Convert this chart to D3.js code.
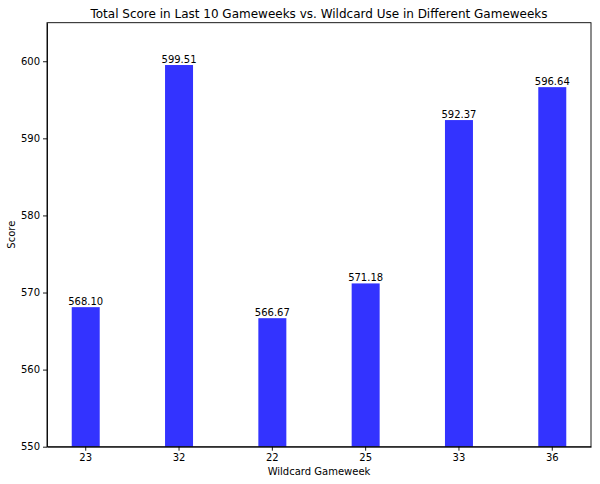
<!DOCTYPE html>
<html lang="en">
<head>
  <meta charset="UTF-8">
  <title>Wildcard chart</title>
  <script src="https://d3js.org/d3.v7.min.js"></script>
  <style>
    body { margin: 0; background: #fff; }
    text { font-family: "DejaVu Sans", sans-serif; fill: #000; }
    .axis path, .axis line { stroke: #000; stroke-width: 0.9; }
    .axis text { font-size: 10px; }
  </style>
</head>
<body>
  <div id="chart"></div>
  <script>
    // Data
    const gameweeks = ["23", "32", "22", "25", "33", "36"];
    const scores = [568.10, 599.51, 566.67, 571.18, 592.37, 596.64];
    const yTicks = [550, 560, 570, 580, 590, 600];

    const W = 600, H = 484;
    const margin = { top: 22.7, right: 9, bottom: 37.3, left: 47 };
    const width = W - margin.left - margin.right;
    const height = H - margin.top - margin.bottom;

    const svg = d3.select("#chart").append("svg")
      .attr("width", W).attr("height", H);

    const g = svg.append("g")
      .attr("transform", `translate(${margin.left},${margin.top})`);

    // Band scale mimicking matplotlib bar width 0.3 with 5% margins
    const x = d3.scaleBand().domain(gameweeks).range([0, width])
      .paddingInner(0.7).paddingOuter(0.265);
    const y = d3.scaleLinear().domain([550, 605]).range([height, 0]);

    // Bars
    g.selectAll(".bar")
      .data(gameweeks.map((gw, i) => ({ gw, score: scores[i] })))
      .enter().append("rect")
      .attr("class", "bar")
      .attr("x", d => x(d.gw))
      .attr("y", d => y(d.score))
      .attr("width", x.bandwidth())
      .attr("height", d => height - y(d.score))
      .attr("fill", "#3333ff");

    // Value labels above bars
    g.selectAll(".val")
      .data(gameweeks.map((gw, i) => ({ gw, score: scores[i] })))
      .enter().append("text")
      .attr("x", d => x(d.gw) + x.bandwidth() / 2)
      .attr("y", d => y(d.score) - 2)
      .attr("text-anchor", "middle")
      .attr("font-size", "10px")
      .text(d => d.score.toFixed(2));

    // Axes
    g.append("g").attr("class", "axis")
      .attr("transform", `translate(0,${height})`)
      .call(d3.axisBottom(x).tickSize(4).tickPadding(3).tickSizeOuter(0));

    g.append("g").attr("class", "axis")
      .call(d3.axisLeft(y).tickValues(yTicks).tickSize(4).tickPadding(3).tickSizeOuter(0));

    // Frame (top and right spines)
    g.append("rect")
      .attr("width", width).attr("height", height)
      .attr("fill", "none").attr("stroke", "#000").attr("stroke-width", 0.9);

    // Title and axis labels
    svg.append("text")
      .attr("x", margin.left + width / 2).attr("y", 18)
      .attr("text-anchor", "middle").attr("font-size", "12px")
      .text("Total Score in Last 10 Gameweeks vs. Wildcard Use in Different Gameweeks");

    svg.append("text")
      .attr("x", margin.left + width / 2).attr("y", 475)
      .attr("text-anchor", "middle").attr("font-size", "10px")
      .text("Wildcard Gameweek");

    svg.append("text")
      .attr("transform", `translate(15,${margin.top + height / 2}) rotate(-90)`)
      .attr("text-anchor", "middle").attr("font-size", "10px")
      .text("Score");
  </script>
</body>
</html>
